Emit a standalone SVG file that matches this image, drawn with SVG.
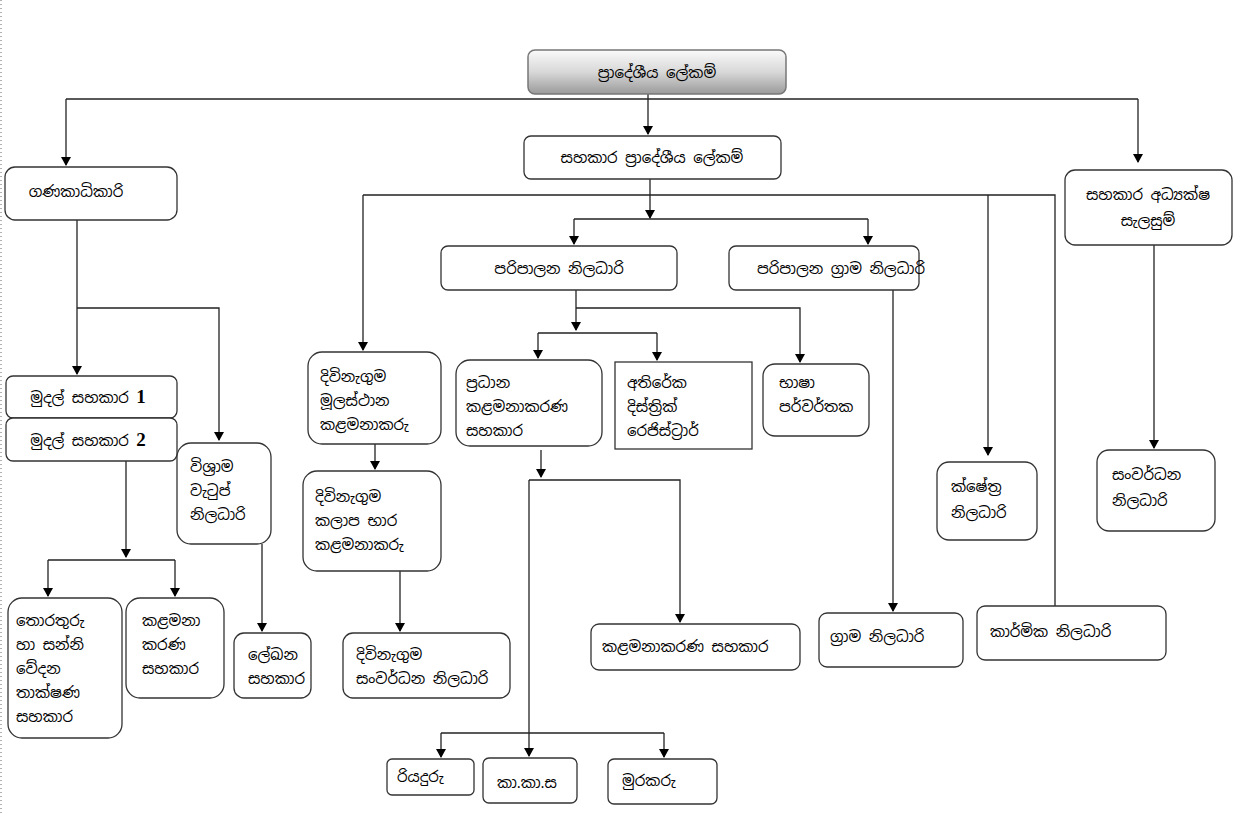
<svg xmlns="http://www.w3.org/2000/svg" width="1243" height="813" viewBox="0 0 1243 813">
<style>
.b{fill:#fff;stroke:#333;stroke-width:1.3}
.t{font-family:"Noto Sans Sinhala","Iskoola Pota","Noto Sans","DejaVu Sans",sans-serif;font-size:15px;fill:#000}
.c{text-anchor:middle}
.l{fill:none;stroke:#222;stroke-width:1.3}
</style>
<defs>
<linearGradient id="g" x1="0" y1="0" x2="0" y2="1"><stop offset="0" stop-color="#fafafa"/><stop offset="0.5" stop-color="#d8d8d8"/><stop offset="1" stop-color="#9a9a9a"/></linearGradient>
<marker id="a" markerWidth="10" markerHeight="10" refX="8" refY="5" orient="auto" markerUnits="userSpaceOnUse"><path d="M0,0 L9,5 L0,10 z" fill="#000"/></marker>
</defs>
<rect width="1243" height="813" fill="#fff"/>
<line x1="1" y1="0" x2="1" y2="813" stroke="#666" stroke-dasharray="1,3"/>
<g id="connectors" class="l">
<path d="M648,94 V134" marker-end="url(#a)"/>
<path d="M66,99 H1138"/>
<path d="M66,99 V165" marker-end="url(#a)"/>
<path d="M1138,99 V162" marker-end="url(#a)"/>
<path d="M650,179 V218" marker-end="url(#a)"/>
<path d="M363,195 H1055 V606"/>
<path d="M363,195 V350" marker-end="url(#a)"/>
<path d="M988,195 V455" marker-end="url(#a)"/>
<path d="M574,219 H868"/>
<path d="M574,219 V244" marker-end="url(#a)"/>
<path d="M868,219 V244" marker-end="url(#a)"/>
<path d="M77,220 V374" marker-end="url(#a)"/>
<path d="M77,308 H219 V440" marker-end="url(#a)"/>
<path d="M126,461 V557" marker-end="url(#a)"/>
<path d="M48,560 H175"/>
<path d="M48,560 V596" marker-end="url(#a)"/>
<path d="M175,560 V596" marker-end="url(#a)"/>
<path d="M262,544 V631" marker-end="url(#a)"/>
<path d="M375,444 V469" marker-end="url(#a)"/>
<path d="M400,571 V631" marker-end="url(#a)"/>
<path d="M576,290 V330" marker-end="url(#a)"/>
<path d="M576,308 H800 V362" marker-end="url(#a)"/>
<path d="M538,333 H657"/>
<path d="M538,333 V358" marker-end="url(#a)"/>
<path d="M657,333 V360" marker-end="url(#a)"/>
<path d="M541,450 V477" marker-end="url(#a)"/>
<path d="M529,480 H680 V622" marker-end="url(#a)"/>
<path d="M529,480 V756" marker-end="url(#a)"/>
<path d="M441,733 H664"/>
<path d="M441,733 V757" marker-end="url(#a)"/>
<path d="M664,733 V757" marker-end="url(#a)"/>
<path d="M893,290 V611" marker-end="url(#a)"/>
<path d="M1154,245 V448" marker-end="url(#a)"/>
</g>
<g id="n1"><rect x="528" y="50" width="258" height="44" rx="7" fill="url(#g)" stroke="#777" stroke-width="1.5"/><text class="t c" x="657" y="78">ප්‍රාදේශීය ලේකම්</text></g>
<g id="n2"><rect class="b" x="524" y="136" width="257" height="43" rx="7"/><text class="t c" x="652" y="163">සහකාර ප්‍රාදේශීය ලේකම්</text></g>
<g id="n3"><rect class="b" x="5" y="167" width="172" height="53" rx="10"/><text class="t c" x="76" y="197">ගණකාධිකාරි</text></g>
<g id="n4"><rect class="b" x="1065" y="170" width="167" height="75" rx="10"/><text class="t c" x="1148" y="200">සහකාර අධ්‍යක්ෂ</text><text class="t c" x="1148" y="226">සැලසුම්</text></g>
<g id="n5"><rect class="b" x="441" y="246" width="236" height="44" rx="7"/><text class="t c" x="559" y="274">පරිපාලන නිලධාරි</text></g>
<g id="n6"><rect class="b" x="729" y="246" width="190" height="44" rx="7"/><text class="t c" x="841" y="274">පරිපාලන ග්‍රාම නිලධාරි</text></g>
<g id="n7"><rect class="b" x="6" y="376" width="171" height="42" rx="7"/><text class="t c" x="88" y="403">මුදල් සහකාර <tspan font-family="Liberation Serif" font-weight="bold" font-size="19">1</tspan></text></g>
<g id="n8"><rect class="b" x="6" y="418" width="171" height="43" rx="7"/><text class="t c" x="88" y="446">මුදල් සහකාර <tspan font-family="Liberation Serif" font-weight="bold" font-size="19">2</tspan></text></g>
<g id="n9"><rect class="b" x="177" y="443" width="94" height="101" rx="14"/><text class="t" x="190" y="472">විශ්‍රාම</text><text class="t" x="190" y="496">වැටුප්</text><text class="t" x="190" y="520">නිලධාරි</text></g>
<g id="n10"><rect class="b" x="308" y="352" width="133" height="92" rx="14"/><text class="t" x="320" y="382">දිවිනැගුම</text><text class="t" x="320" y="406">මූලස්ථාන</text><text class="t" x="320" y="430">කළමනාකරු</text></g>
<g id="n11"><rect class="b" x="303" y="471" width="138" height="100" rx="14"/><text class="t" x="315" y="502">දිවිනැගුම</text><text class="t" x="315" y="526">කලාප භාර</text><text class="t" x="315" y="550">කළමනාකරු</text></g>
<g id="n12"><rect class="b" x="456" y="360" width="146" height="86" rx="14"/><text class="t" x="466" y="388">ප්‍රධාන</text><text class="t" x="466" y="412">කළමනාකරණ</text><text class="t" x="466" y="436">සහකාර</text></g>
<g id="n13"><rect class="b" x="615" y="362" width="137" height="87"/><text class="t" x="627" y="388">අතිරේක</text><text class="t" x="627" y="412">දිස්ත්‍රික්</text><text class="t" x="627" y="436">රෙජිස්ට්‍රාර්</text></g>
<g id="n14"><rect class="b" x="763" y="364" width="106" height="72" rx="12"/><text class="t" x="779" y="388" font-size="13">භාෂා</text><text class="t" x="779" y="412">පර්වර්තක</text></g>
<g id="n15"><rect class="b" x="8" y="598" width="114" height="140" rx="14"/><text class="t" x="16" y="626">තොරතුරු</text><text class="t" x="16" y="650">හා සන්නි</text><text class="t" x="16" y="674">වේදන</text><text class="t" x="16" y="698">තාක්ෂණ</text><text class="t" x="16" y="722">සහකාර</text></g>
<g id="n16"><rect class="b" x="126" y="598" width="98" height="100" rx="14"/><text class="t" x="142" y="626">කළමනා</text><text class="t" x="142" y="650">කරණ</text><text class="t" x="142" y="674">සහකාර</text></g>
<g id="n17"><rect class="b" x="234" y="633" width="77" height="65" rx="10"/><text class="t" x="248" y="660">ලේඛන</text><text class="t" x="248" y="684">සහකාර</text></g>
<g id="n18"><rect class="b" x="343" y="633" width="167" height="65" rx="10"/><text class="t" x="356" y="660">දිවිනැගුම</text><text class="t" x="356" y="684">සංවර්ධන නිලධාරි</text></g>
<g id="n19"><rect class="b" x="591" y="624" width="209" height="46" rx="8"/><text class="t" x="602" y="652">කළමනාකරණ සහකාර</text></g>
<g id="n20"><rect class="b" x="937" y="462" width="100" height="78" rx="12"/><text class="t" x="951" y="492">ක්ෂේත්‍ර</text><text class="t" x="951" y="518">නිලධාරි</text></g>
<g id="n21"><rect class="b" x="1097" y="450" width="118" height="81" rx="12"/><text class="t" x="1112" y="480">සංවර්ධන</text><text class="t" x="1112" y="506">නිලධාරි</text></g>
<g id="n22"><rect class="b" x="819" y="613" width="144" height="54" rx="8"/><text class="t" x="830" y="642">ග්‍රාම නිලධාරි</text></g>
<g id="n23"><rect class="b" x="977" y="606" width="189" height="54" rx="8"/><text class="t" x="990" y="637">කාර්මික නිලධාරි</text></g>
<g id="n24"><rect class="b" x="387" y="759" width="87" height="36" rx="5"/><text class="t" x="397" y="782">රියදුරු</text></g>
<g id="n25"><rect class="b" x="483" y="758" width="94" height="45" rx="6"/><text class="t" x="497" y="788">කා.කා.ස</text></g>
<g id="n26"><rect class="b" x="608" y="759" width="109" height="45" rx="6"/><text class="t" x="622" y="786">මුරකරු</text></g>
</svg>
